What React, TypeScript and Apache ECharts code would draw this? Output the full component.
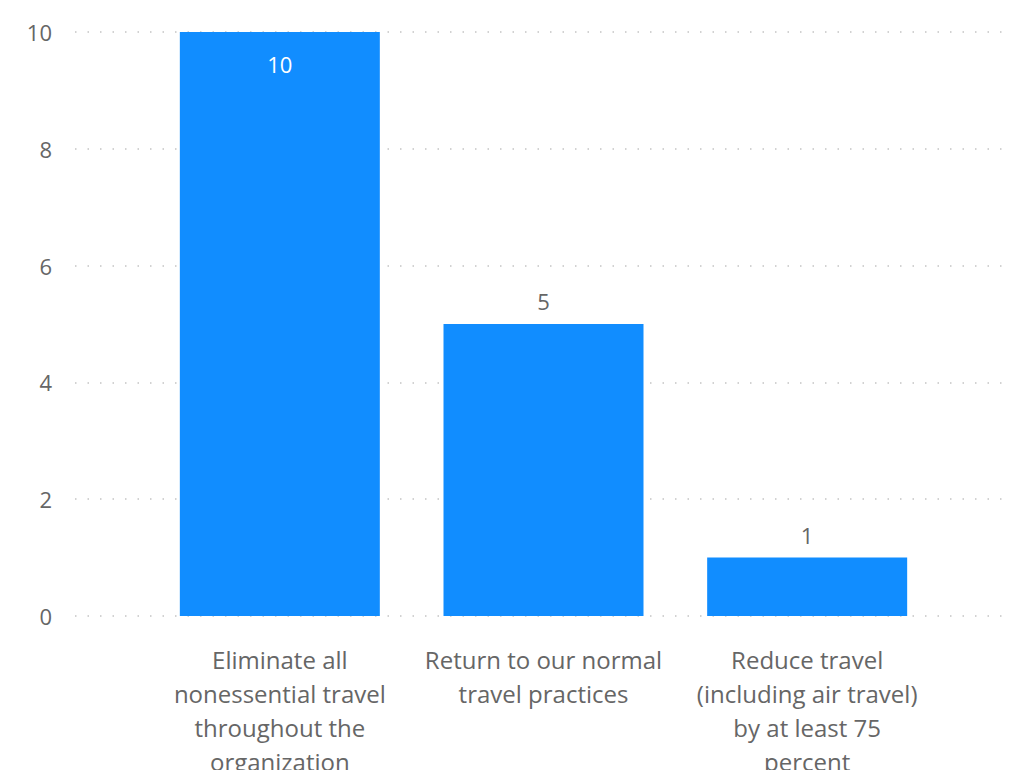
import React, { useEffect, useRef } from "react";
import * as echarts from "echarts";

const categories = [
  "Eliminate all\nnonessential travel\nthroughout the\norganization",
  "Return to our normal\ntravel practices",
  "Reduce travel\n(including air travel)\nby at least 75\npercent",
];
const values = [10, 5, 1];
const yTicks = [0, 2, 4, 6, 8, 10];

export default function App() {
  const ref = useRef<HTMLDivElement>(null);
  useEffect(() => {
    if (!ref.current) return;
    const chart = echarts.init(ref.current, undefined, { renderer: "svg" });
    const font = "'Open Sans', 'Noto Sans', sans-serif";
    const yMax = yTicks[yTicks.length - 1];
    chart.setOption({
      animation: false,
      textStyle: { fontFamily: font },
      grid: [
        { left: 75, right: 2, top: 32, bottom: 162 },
        { left: 148, right: 71, top: 32, bottom: 162 },
      ],
      xAxis: [
        { type: "value", gridIndex: 0, show: false, min: 0, max: 1 },
        {
          type: "category",
          gridIndex: 1,
          data: categories,
          axisLine: { show: false },
          axisTick: { show: false },
          axisLabel: {
            color: "#666666",
            fontSize: 24,
            lineHeight: 34,
            margin: 26,
            interval: 0,
            fontFamily: font,
          },
        },
      ],
      yAxis: [
        {
          type: "value",
          gridIndex: 0,
          min: 0,
          max: yMax,
          interval: 2,
          axisLine: { show: false },
          axisTick: { show: false },
          axisLabel: { color: "#666666", fontSize: 22, margin: 23, fontFamily: font },
          splitLine: {
            show: true,
            lineStyle: { color: "#c4c4c4", width: 1.5, type: [1.5, 11] },
          },
        },
        { type: "value", gridIndex: 1, min: 0, max: yMax, show: false },
      ],
      series: [
        {
          type: "bar",
          xAxisIndex: 1,
          yAxisIndex: 1,
          barWidth: 200,
          itemStyle: { color: "#118DFF" },
          label: {
            show: true,
            position: "top",
            distance: 12,
            color: "#666666",
            fontSize: 22,
            fontFamily: font,
          },
          data: values.map((v) =>
            v >= yMax
              ? {
                  value: v,
                  label: { position: "insideTop", distance: 21, color: "#ffffff" },
                }
              : v
          ),
        },
      ],
    });
    return () => chart.dispose();
  }, []);
  return <div ref={ref} style={{ width: 1010, height: 778, margin: -8 }} />;
}
